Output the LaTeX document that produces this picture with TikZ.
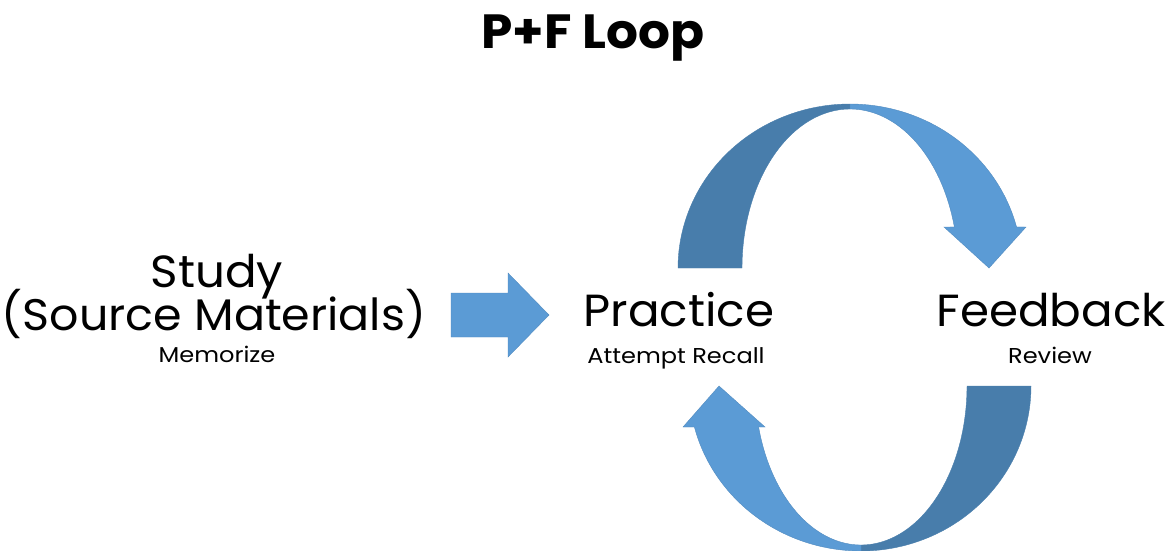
\documentclass[tikz,border=0pt]{standalone}
\usepackage{fontspec}
\setmainfont{Poppins}
\newfontfamily\bigfam[FakeStretch=1.04]{Poppins}
\newfontfamily\smallfam[FakeStretch=1.12]{Poppins}
\newfontfamily\titlefam[FakeStretch=1.045]{Poppins}
\definecolor{lightblue}{HTML}{5B9BD5}
\definecolor{darkblue}{HTML}{487DAB}
\begin{document}
\begin{tikzpicture}[x=1pt,y=-1pt,
  lightpart/.style={fill=lightblue,draw=lightblue!90!black,line width=0.4pt,line join=miter},
  darkpart/.style={fill=darkblue,draw=darkblue,line width=0.4pt},
  bigtext/.style={anchor=base,inner sep=0pt,font=\bigfam\fontsize{45}{50}\selectfont},
  smalltext/.style={anchor=base,inner sep=0pt,font=\smallfam\fontsize{21.5}{24}\selectfont}]
\useasboundingbox (0,0) rectangle (1172,550);
% title
\node[anchor=base,inner sep=0pt,font=\titlefam\fontsize{48}{54}\selectfont\bfseries] (title) at (593,48) {P+F Loop};
% texts
\node[bigtext] (study) at (217,287) {Study};
\node[bigtext,font=\bigfam\fontsize{44.2}{50}\selectfont] (source) at (214,330) {(Source Materials)};
\node[smalltext] (memorize) at (217,362) {Memorize};
\node[bigtext] (practice) at (679,326) {Practice};
\node[smalltext] (attempt) at (676,363) {Attempt Recall};
\node[bigtext] (feedback) at (1051,326) {Feedback};
\node[smalltext] (review) at (1050,363) {Review};
% straight arrow
\path[lightpart] (451,293) -- (508,293) -- (508,273) -- (549,315) -- (508,357) -- (508,337) -- (451,337) -- cycle;
% top curved arrow
\path[darkpart] plot[domain=180:270,samples=60] ({850+172*cos(\x)},{268+164*sin(\x)})
   -- plot[domain=270:180,samples=60] ({850+108*cos(\x)},{268+159*sin(\x)}) -- cycle;
\path[lightpart] plot[domain=270:345.5,samples=60] ({850+172*cos(\x)},{268+164*sin(\x)})
   -- (1026,227) -- (989,268) -- (944,227)
   -- plot[domain=345.05:270,samples=60] ({850+108*cos(\x)},{268+159*sin(\x)}) -- cycle;
% bottom curved arrow
\path[darkpart] plot[domain=0:90,samples=60] ({861+170*cos(\x)},{386+165*sin(\x)})
   -- plot[domain=90:0,samples=60] ({861+106*cos(\x)},{386+159*sin(\x)}) -- cycle;
\path[lightpart] plot[domain=90:165.6,samples=60] ({861+172*cos(\x)},{386+165*sin(\x)})
   -- (683,427) -- (719,386) -- (765,427)
   -- plot[domain=165.05:90,samples=60] ({861+106*cos(\x)},{386+159*sin(\x)}) -- cycle;
\end{tikzpicture}
\end{document}
